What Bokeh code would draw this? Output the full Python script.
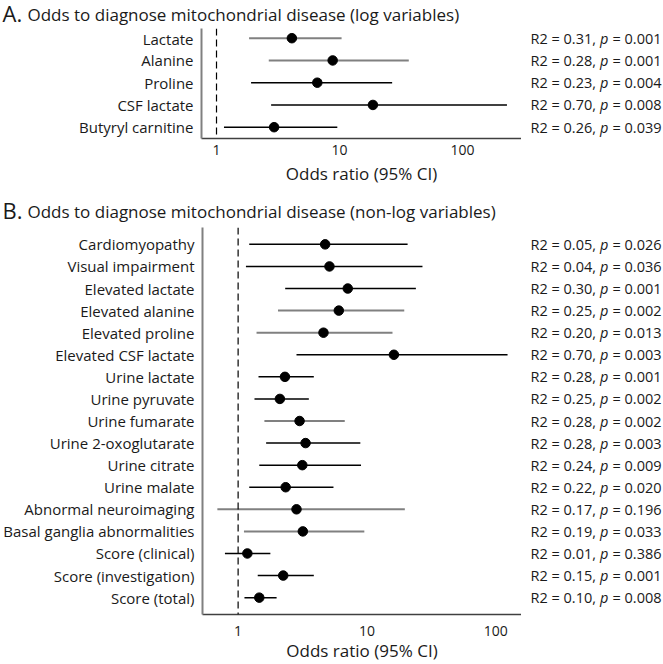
from bokeh.plotting import figure
from bokeh.layouts import column, row
from bokeh.models import (ColumnDataSource, Range1d, FixedTicker, Span,
                          NumeralTickFormatter)
from bokeh.core.properties import value
from bokeh.embed import file_html
from bokeh.resources import INLINE

# ---------------- data ----------------
x_ticks = [1, 10, 100]
ref_or = 1
x_title = "Odds ratio (95% CI)"

a_letter = "A."
a_title = "Odds to diagnose mitochondrial disease (log variables)"
a_labels = ["Lactate", "Alanine", "Proline", "CSF lactate", "Butyryl carnitine"]
a_or = [4.1, 8.8, 6.6, 18.7, 2.94]
a_lo = [1.84, 2.66, 1.91, 2.78, 1.15]
a_hi = [10.4, 36.6, 26.8, 230.0, 9.6]
a_r2 = [0.31, 0.28, 0.23, 0.70, 0.26]
a_p = [0.001, 0.001, 0.004, 0.008, 0.039]
a_shade = ["light", "light", "dark", "dark", "dark"]

b_letter = "B."
b_title = "Odds to diagnose mitochondrial disease (non-log variables)"
b_labels = ["Cardiomyopathy", "Visual impairment", "Elevated lactate",
            "Elevated alanine", "Elevated proline", "Elevated CSF lactate",
            "Urine lactate", "Urine pyruvate", "Urine fumarate",
            "Urine 2-oxoglutarate", "Urine citrate", "Urine malate",
            "Abnormal neuroimaging", "Basal ganglia abnormalities",
            "Score (clinical)", "Score (investigation)", "Score (total)"]
b_or = [4.74, 5.12, 7.1, 6.05, 4.6, 16.2, 2.31, 2.11, 3.0, 3.34, 3.15, 2.34,
        2.84, 3.18, 1.18, 2.24, 1.46]
b_lo = [1.22, 1.15, 2.32, 2.04, 1.39, 2.84, 1.44, 1.34, 1.6, 1.65, 1.46, 1.22,
        0.69, 1.11, 0.79, 1.42, 1.12]
b_hi = [20.7, 27.0, 24.0, 19.5, 15.8, 123.6, 3.87, 3.54, 6.73, 8.89, 9.0, 5.5,
        19.7, 9.55, 1.78, 3.87, 1.99]
b_r2 = [0.05, 0.04, 0.30, 0.25, 0.20, 0.70, 0.28, 0.25, 0.28, 0.28, 0.24, 0.22,
        0.17, 0.19, 0.01, 0.15, 0.10]
b_p = [0.026, 0.036, 0.001, 0.002, 0.013, 0.003, 0.001, 0.002, 0.002, 0.003,
       0.009, 0.020, 0.196, 0.033, 0.386, 0.001, 0.008]
b_shade = ["dark", "dark", "dark", "light", "light", "dark", "dark", "dark",
           "light", "dark", "dark", "dark", "light", "light", "dark", "dark", "dark"]

# ---------------- style ----------------
FONT = "Open Sans"
TXT = "#1a1a1a"
SHADE_COLOR = {"light": "#808080", "dark": "#000000"}
SHADE_WIDTH = {"light": 2.0, "dark": 1.5}
TOTAL_W = 663
BORDER_L = 201
FRAME_W = 320
MAIN_W = BORDER_L + FRAME_W
STATS_W = TOTAL_W - MAIN_W


def bare(fig):
    fig.outline_line_color = None
    fig.background_fill_color = "white"
    fig.border_fill_color = "white"
    fig.grid.visible = False
    return fig


def header(letter, title, height, letter_mid, title_mid):
    h = figure(width=TOTAL_W, height=height, x_range=Range1d(0, 1),
               y_range=Range1d(0, 1), min_border=0, x_axis_location=None,
               y_axis_location=None, output_backend="svg",
               toolbar_location=None)
    bare(h)
    h.text(x=0, y=1, text=[letter], x_offset=2, y_offset=letter_mid,
           text_font=value(FONT), text_font_size=value("22px"),
           text_color=TXT, text_baseline="middle", text_align="left")
    h.text(x=0, y=1, text=[title], x_offset=27, y_offset=title_mid,
           text_font=value(FONT), text_font_size=value("17px"),
           text_color=TXT, text_baseline="middle", text_align="left")
    return h


def panel(labels, ors, los, his, r2s, ps, shades, x_lims, height, frame_h,
          pad_top, pad_bottom, tick_standoff, title_standoff):
    n = len(labels)
    rows = [n - i for i in range(n)]
    yr = Range1d(1 - pad_bottom, n + pad_top)
    bottom_border = height - frame_h
    p = figure(width=MAIN_W, height=height, x_axis_type="log",
               x_range=Range1d(*x_lims), y_range=yr,
               min_border_left=BORDER_L, min_border_right=0,
               min_border_top=0, min_border_bottom=bottom_border,
               output_backend="svg", toolbar_location=None)
    bare(p)

    src = ColumnDataSource(dict(
        row=rows, orr=ors, lo=los, hi=his,
        col=[SHADE_COLOR[s] for s in shades],
        lw=[SHADE_WIDTH[s] for s in shades],
        t1=[f"R2 = {r:.2f}," for r in r2s],
        t2=["p"] * n,
        t3=[f"= {v:.3f}" for v in ps],
    ))

    p.add_layout(Span(location=ref_or, dimension="height", line_color="black",
                      line_width=1.2, line_dash="7 4"))
    p.segment(x0="lo", x1="hi", y0="row", y1="row", line_color="col",
              line_width="lw", source=src)
    p.scatter(x="orr", y="row", size=9.5, fill_color="black",
              line_color="black", source=src)

    p.yaxis.ticker = FixedTicker(ticks=rows)
    p.yaxis.major_label_overrides = {r: lab for r, lab in zip(rows, labels)}
    p.yaxis.major_tick_line_color = None
    p.yaxis.minor_tick_line_color = None
    p.yaxis.major_tick_out = 0
    p.yaxis.major_label_standoff = 8
    p.yaxis.major_label_text_font = FONT
    p.yaxis.major_label_text_font_size = "15px"
    p.yaxis.major_label_text_color = TXT
    p.yaxis.axis_line_color = "#808080"
    p.yaxis.axis_line_width = 2

    p.xaxis.ticker = FixedTicker(ticks=x_ticks)
    p.xaxis.formatter = NumeralTickFormatter(format="0")
    p.xaxis.major_tick_line_color = None
    p.xaxis.minor_tick_line_color = None
    p.xaxis.major_tick_out = 0
    p.xaxis.major_label_standoff = tick_standoff
    p.xaxis.major_label_text_font = FONT
    p.xaxis.major_label_text_font_size = "14px"
    p.xaxis.major_label_text_color = TXT
    p.xaxis.axis_line_color = "#404040"
    p.xaxis.axis_line_width = 1.3
    p.xaxis.axis_label = x_title
    p.xaxis.axis_label_standoff = title_standoff
    p.xaxis.axis_label_text_font = FONT
    p.xaxis.axis_label_text_font_size = "17px"
    p.xaxis.axis_label_text_font_style = "normal"
    p.xaxis.axis_label_text_color = TXT

    # statistics column to the right, sharing the row scale
    s = figure(width=STATS_W, height=height, x_range=Range1d(0, 1), y_range=yr,
               min_border_left=0, min_border_right=0, min_border_top=0,
               min_border_bottom=bottom_border, x_axis_location=None,
               y_axis_location=None, output_backend="svg",
               toolbar_location=None)
    bare(s)
    common = dict(x=0, y="row", source=src, text_font=value(FONT),
                  text_font_size=value("14.5px"), text_color=TXT,
                  text_baseline="middle", text_align="left")
    s.text(text="t1", x_offset=9, **common)
    s.text(text="t2", x_offset=78.4, text_font_style="italic", **common)
    s.text(text="t3", x_offset=91, **common)
    return row(p, s)


head_a = header(a_letter, a_title, height=28, letter_mid=12, title_mid=14)
body_a = panel(a_labels, a_or, a_lo, a_hi, a_r2, a_p, a_shade, (0.755, 302),
               height=168, frame_h=110, pad_top=0.436, pad_bottom=0.508,
               tick_standoff=6, title_standoff=4)
head_b = header(b_letter, b_title, height=31, letter_mid=13, title_mid=14.5)
body_b = panel(b_labels, b_or, b_lo, b_hi, b_r2, b_p, b_shade, (0.529, 158.6),
               height=437, frame_h=390, pad_top=0.764, pad_bottom=0.764,
               tick_standoff=11, title_standoff=0)

layout = column(head_a, body_a, head_b, body_b)
open("out.html", "w").write(file_html(layout, INLINE))
